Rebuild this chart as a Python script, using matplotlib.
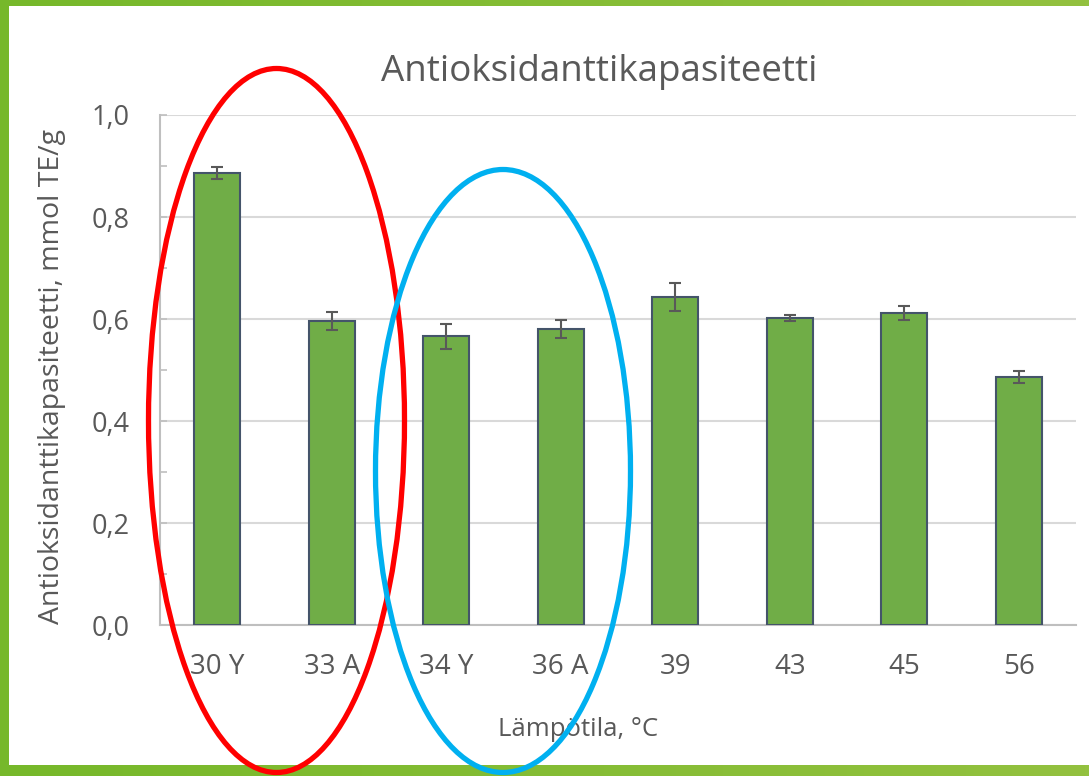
import matplotlib
matplotlib.use("Agg")
import matplotlib.pyplot as plt
import numpy as np
from matplotlib.patches import Ellipse, Rectangle
from matplotlib.ticker import MultipleLocator, FuncFormatter
from matplotlib.colors import LinearSegmentedColormap

categories = ["30 Y", "33 A", "34 Y", "36 A", "39", "43", "45", "56"]
values = [0.887, 0.596, 0.566, 0.580, 0.643, 0.602, 0.612, 0.486]
errors = [0.012, 0.017, 0.024, 0.018, 0.028, 0.006, 0.013, 0.012]
title = "Antioksidanttikapasiteetti"
ylabel = "Antioksidanttikapasiteetti, mmol TE/g"
xlabel = "Lämpötila, °C"

W, H = 1089, 776
plt.rcParams['font.family'] = ['Open Sans', 'DejaVu Sans']
fig = plt.figure(figsize=(W / 100, H / 100), dpi=100)

# background frame with green gradient border
bg = fig.add_axes([0, 0, 1, 1], zorder=-10)
bg.set_xlim(0, W)
bg.set_ylim(H, 0)
bg.axis('off')
grad = np.linspace(0, 1, 256).reshape(1, -1)
gcm = LinearSegmentedColormap.from_list("g", ["#76B82A", "#93C13F"])
bg.imshow(grad, cmap=gcm, extent=[0, W, H, 0], aspect='auto')
bg.add_patch(Rectangle((9, 6), W - 9, 765 - 6, facecolor='white', edgecolor='none'))

text_color = "#595959"
ax = fig.add_axes([160 / W, 1 - 625 / H, (1076 - 160) / W, (625 - 115) / H])
x = np.arange(len(categories))
ax.bar(x, values, width=0.40, color="#70AD47", edgecolor="#44546A", linewidth=1.5, zorder=3)
ax.errorbar(x, values, yerr=errors, fmt='none', ecolor="#595959", elinewidth=1.5,
            capsize=4.5, capthick=1.5, zorder=4)
ax.set_xlim(-0.5, len(categories) - 0.5)
ax.set_ylim(0, 1.0)
ax.yaxis.set_major_locator(MultipleLocator(0.2))
ax.yaxis.set_minor_locator(MultipleLocator(0.1))
ax.yaxis.set_major_formatter(FuncFormatter(lambda v, p: f"{v:.1f}".replace('.', ',')))
ax.grid(axis='y', which='major', color="#D9D9D9", linewidth=1.5, zorder=0)
for s in ['top', 'right']:
    ax.spines[s].set_visible(False)
for s in ['left', 'bottom']:
    ax.spines[s].set_color("#BFBFBF")
    ax.spines[s].set_linewidth(1.5)
ax.tick_params(axis='y', which='both', direction='in', length=5, width=1.2, color="#BFBFBF",
               labelsize=19.5, labelcolor=text_color, pad=22)
ax.tick_params(axis='x', length=0, labelsize=20, labelcolor=text_color, pad=20)
ax.set_xticks(x)
ax.set_xticklabels(categories)
ax.set_facecolor('none')

fig.text(599 / W, 1 - 72 / H, title, ha='center', va='center', fontsize=26.5, color=text_color)
fig.text(52 / W, 1 - 376 / H, ylabel, ha='center', va='center', rotation=90, fontsize=20.5,
         color=text_color)
fig.text(578 / W, 1 - 729 / H, xlabel, ha='center', va='center', fontsize=18.5, color=text_color)

# annotation ellipses
ov = fig.add_axes([0, 0, 1, 1], zorder=10)
ov.set_xlim(0, W)
ov.set_ylim(H, 0)
ov.axis('off')
ov.set_facecolor('none')
ov.add_patch(Ellipse((276.5, 420.5), 256, 704, fill=False, edgecolor="#FF0000", linewidth=3.8))
ov.add_patch(Ellipse((503, 471), 255, 603, fill=False, edgecolor="#00B0F0", linewidth=3.8))

fig.savefig("out.png", dpi=100)
